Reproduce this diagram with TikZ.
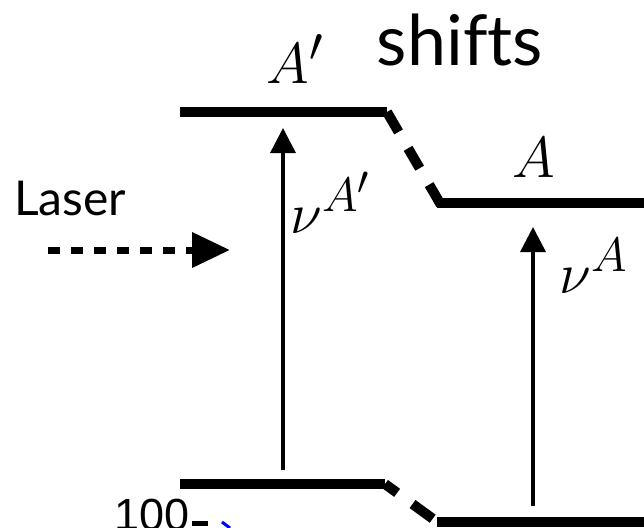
\documentclass[tikz,border=0pt]{standalone}
\usepackage{fontspec}
\newfontfamily\gillfont{Lato}[Ligatures=CommonOff]
\newfontfamily\plotfont{Liberation Sans}
\usetikzlibrary{arrows.meta}
\begin{document}
\begin{tikzpicture}[x=1pt,y=-1pt,
  level/.style={line width=10pt,line cap=butt},
  shiftline/.style={line width=10pt,line cap=butt},
  trans/.style={line width=3.5pt,-{Triangle[length=25pt,width=25pt]}},
  laserarrow/.style={line width=7pt,dash pattern=on 12pt off 11pt,-{Triangle[length=38pt,width=34pt]}},
  mathlbl/.style={inner sep=0pt,font=\Huge,scale=2.33},
  sanslbl/.style={inner sep=0pt,font=\gillfont},
  every node/.style={inner sep=0pt}]
\useasboundingbox (0,0) rectangle (644,527);
\clip (0,0) rectangle (644,527);
% level end points
\coordinate (ulA) at (180,112);
\coordinate (urA) at (387,112);
\coordinate (ulB) at (437,203);
\coordinate (urB) at (650,203);
\coordinate (llA) at (180,484);
\coordinate (lrA) at (385,484);
\coordinate (llB) at (437,522);
\coordinate (lrB) at (650,522);
\draw[level] (ulA) -- (urA);
\draw[level] (ulB) -- (urB);
\draw[level] (llA) -- (lrA);
\draw[level] (llB) -- (lrB);
% connectors (shifts)
\coordinate (cu) at (441,205);
\draw[shiftline,dash pattern=on 23pt off 19pt] (urA) -- (cu);
\coordinate (cl) at (440,524);
\draw[shiftline,dash pattern=on 15pt off 19pt on 25pt off 20pt] (lrA) -- (cl);
% transitions
\coordinate (t1a) at (283,470);
\coordinate (t1b) at (283,128);
\draw[trans] (t1a) -- (t1b);
\coordinate (t2a) at (533,506);
\coordinate (t2b) at (533,227);
\draw[trans] (t2a) -- (t2b);
% laser
\coordinate (la) at (48,250);
\coordinate (lb) at (230,250);
\draw[laserarrow] (la) -- (lb);
% labels
\node[mathlbl,anchor=base] (lAp) at (295,83) {$A'$};
\node[mathlbl,anchor=base] (lA) at (534,177) {$A$};
\node[mathlbl,anchor=base west] (nuAp) at (290,233) {$\nu^{A'}$};
\node[mathlbl,anchor=base west] (nuA) at (559,293) {$\nu^{A}$};
\node[sanslbl,anchor=base,font=\gillfont\fontsize{70}{76}\selectfont] (shifts) at (460,65) {shifts};
\node[sanslbl,anchor=base west,font=\gillfont\fontsize{48}{54}\selectfont] (laser) at (14,215) {Laser};
% fragment of another plot at the bottom
\node[anchor=base west,font=\plotfont\fontsize{45}{50}\selectfont] (hundred) at (114,530) {100};
\coordinate (tk1) at (192,523);
\coordinate (tk2) at (208,523);
\draw[line width=5pt] (tk1) -- (tk2);
\coordinate (bl1) at (222,522);
\coordinate (bl2) at (230,528);
\draw[blue,line width=3pt] (bl1) -- (bl2);
\end{tikzpicture}
\end{document}
